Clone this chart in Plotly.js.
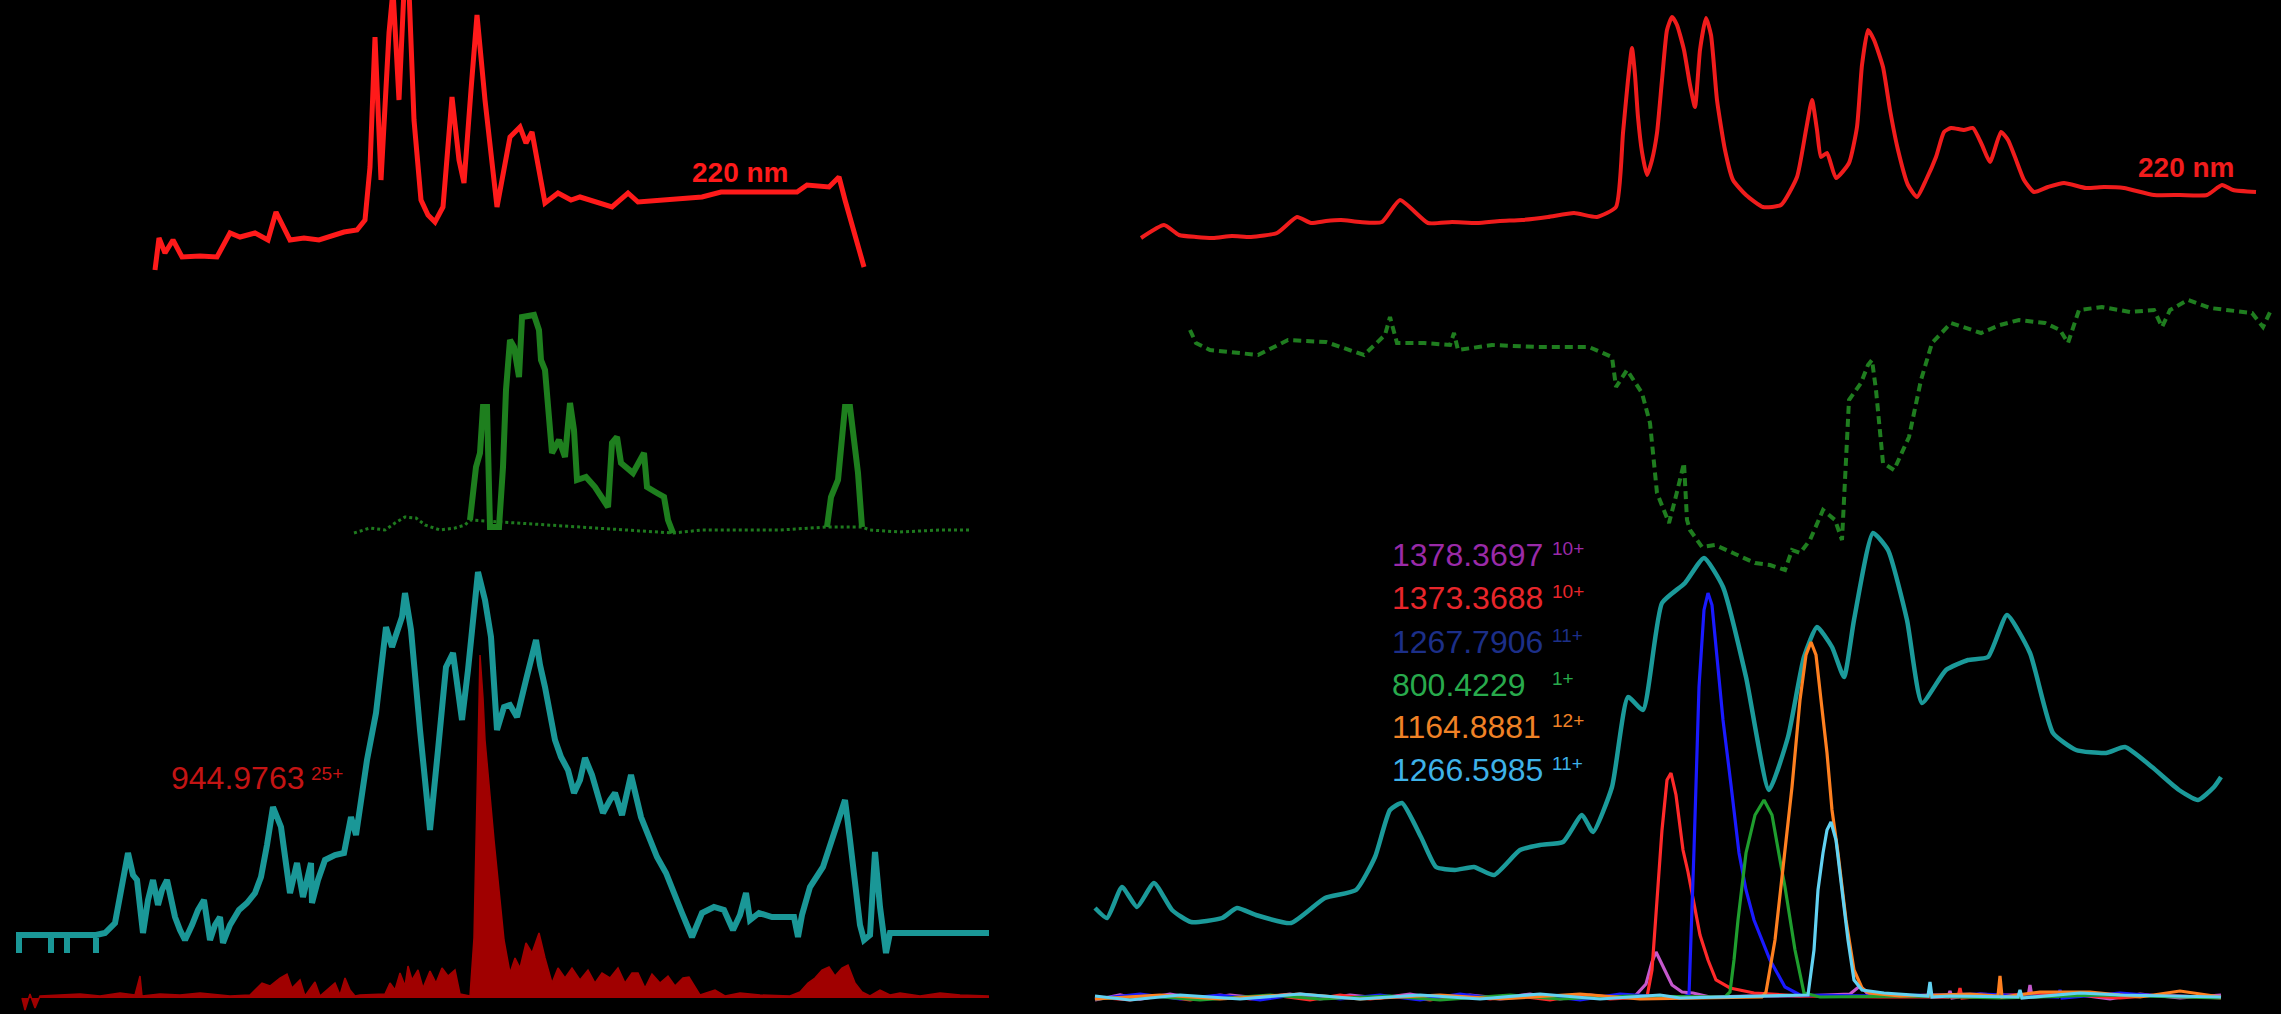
<!DOCTYPE html>
<html>
<head>
<meta charset="utf-8">
<script src="https://cdn.plot.ly/plotly-3.0.1.min.js"></script>
<style>
  html, body { margin: 0; padding: 0; background: #000; overflow: hidden; }
  #chart { width: 2281px; height: 1014px; }
</style>
</head>
<body>
<div id="chart"></div>
<script>
// ---- Run A (left): [retention time (min), signal] ----
const leftUv220 = [[7.75,10],[7.95,42],[8.25,27],[8.65,40],[9.1,23],[10.0,24],[10.85,23],[11.5,47],[12.0,43],[12.75,47],[13.4,40],[13.8,68],[14.5,40],[15.2,42],[15.95,40],[16.6,44],[17.2,48],[17.85,50],[18.25,60],[18.5,113],[18.75,243],[19.05,100],[19.45,247],[19.65,290],[19.95,180],[20.2,290],[20.45,290],[20.7,160],[21.05,80],[21.4,65],[21.75,58],[22.15,73],[22.6,183],[22.95,120],[23.2,97],[23.55,190],[23.85,265],[24.25,180],[24.85,73],[25.5,143],[26.0,153],[26.3,137],[26.6,148],[27.25,77],[27.9,87],[28.55,80],[29.0,83],[30.6,73],[31.4,87],[31.9,78],[33.5,80],[35.1,83],[36.05,88],[38.0,88],[39.85,88],[40.35,95],[41.45,93],[41.95,103],[42.25,80],[43.2,13]];

const leftTicQuiet = [[17.7,7],[18.5,12],[19.25,10],[19.75,17],[20.25,23],[20.8,22],[21.25,15],[22.0,10],[22.75,12],[23.25,15],[23.5,20],[33.65,7],[35.1,10],[37.0,10],[39.0,10],[41.35,13],[43.1,13],[43.5,10],[45.0,8],[47.0,10],[48.5,10]];
const leftTicPeaks = [[23.5,20],[23.8,73],[24.0,87],[24.15,133],[24.35,133],[24.5,13],[24.95,13],[25.15,73],[25.3,150],[25.5,200],[25.7,193],[25.95,163],[26.1,223],[26.5,225],[26.7,225],[26.95,210],[27.05,180],[27.25,170],[27.4,127],[27.6,87],[27.95,100],[28.25,83],[28.5,137],[28.7,110],[28.85,60],[29.3,63],[29.75,53],[30.4,33],[30.6,97],[30.85,103],[31.05,77],[31.65,67],[32.2,87],[32.35,53],[32.85,47],[33.2,43],[33.4,20],[33.65,7],[null,null],[41.35,13],[41.55,43],[41.9,60],[42.25,133],[42.5,133],[42.65,107],[42.9,67],[43.1,13]];

const leftBpc = [[0.95,7],[0.95,25],[2.55,25],[2.55,7],[2.55,25],[3.35,25],[3.35,7],[3.35,25],[4.8,25],[4.8,7],[4.8,25],[5.25,27],[5.75,37],[6.4,107],[6.65,85],[6.85,80],[7.15,27],[7.4,60],[7.65,80],[7.9,55],[8.1,70],[8.35,80],[8.75,43],[9.0,30],[9.25,20],[9.6,35],[9.9,50],[10.2,60],[10.5,20],[10.75,35],[11.0,43],[11.15,17],[11.5,35],[11.95,50],[12.35,57],[12.75,67],[13.05,83],[13.35,115],[13.65,153],[14.05,133],[14.3,90],[14.5,67],[14.85,97],[15.15,63],[15.55,97],[15.6,57],[15.9,80],[16.25,100],[16.75,105],[17.2,107],[17.55,143],[17.8,125],[18.35,200],[18.8,247],[19.05,290],[19.3,333],[19.6,313],[19.85,330],[20.1,343],[20.25,367],[20.55,330],[21.0,230],[21.5,130],[21.9,210],[22.3,293],[22.65,307],[22.9,270],[23.1,240],[23.4,290],[23.6,333],[23.9,388],[24.25,360],[24.55,323],[24.85,230],[25.2,253],[25.5,255],[25.85,243],[26.3,280],[26.8,320],[27.0,295],[27.25,273],[27.75,220],[28.05,203],[28.4,190],[28.7,167],[29.0,180],[29.25,202],[29.6,185],[30.15,147],[30.5,160],[30.75,167],[31.1,145],[31.55,185],[32.05,143],[32.5,120],[32.85,103],[33.3,87],[33.7,65],[34.1,47],[34.6,23],[35.1,47],[35.7,53],[36.2,50],[36.65,30],[37.0,45],[37.3,67],[37.5,40],[37.95,47],[38.6,43],[39.7,43],[39.9,23],[40.1,45],[40.5,73],[41.15,93],[41.75,130],[42.25,160],[42.5,120],[42.75,73],[43.0,35],[43.2,20],[43.5,25],[43.75,108],[44.0,53],[44.3,7],[44.5,27],[49.45,27]];

const leftEic944 = [[1.1,0],[1.25,-12],[1.5,4],[1.75,-10],[2.0,2],[3.0,3],[4.0,4],[5.0,2],[6.0,5],[6.75,3],[7.0,22],[7.1,2],[8.0,4],[9.0,3],[10.0,5],[11.5,2],[12.5,3],[12.75,8],[13.1,15],[13.5,12],[14.0,20],[14.35,24],[14.6,10],[15.0,18],[15.25,2],[15.75,16],[16.0,2],[16.75,15],[17.0,3],[17.25,20],[17.5,8],[17.75,2],[18.0,3],[19.25,4],[19.5,15],[19.75,8],[20.0,25],[20.25,12],[20.4,32],[20.6,18],[20.9,28],[21.15,10],[21.5,27],[21.8,15],[22.1,30],[22.4,22],[22.75,28],[23.0,4],[23.5,2],[23.7,60],[23.85,220],[24.0,343],[24.15,300],[24.25,258],[24.7,158],[25.2,58],[25.5,25],[25.75,40],[26.0,30],[26.3,55],[26.6,45],[26.95,65],[27.25,40],[27.6,15],[27.9,30],[28.25,20],[28.6,30],[29.0,18],[29.4,28],[29.75,15],[30.1,25],[30.5,20],[30.9,30],[31.25,15],[31.6,25],[31.9,25],[32.25,10],[32.6,24],[33.0,15],[33.4,22],[33.75,12],[34.15,20],[34.45,21],[35.0,3],[35.75,8],[36.25,2],[37.0,5],[38.0,3],[39.5,2],[40.0,6],[40.4,15],[40.75,20],[41.1,28],[41.45,31],[41.75,22],[42.1,30],[42.4,33],[42.75,15],[43.1,6],[43.5,2],[44.0,8],[44.5,3],[45.0,5],[46.0,2],[47.0,5],[48.0,3],[49.45,2]];

// ---- Run B (right): [retention time (min), signal] ----
const rightUv220 = [[3.05,42],[4.2,55],[4.95,45],[5.8,43],[6.65,42],[7.6,44],[8.55,43],[9.85,47],[10.85,63],[11.55,57],[12.3,59],[13.05,60],[14.0,58],[15.1,58],[16.0,80],[17.4,57],[18.6,58],[19.85,57],[21.0,59],[22.1,60],[23.4,63],[24.7,67],[25.85,63],[26.8,73],[27.15,147],[27.4,200],[27.6,232],[27.75,205],[27.9,163],[28.1,128],[28.35,105],[28.6,120],[28.85,147],[29.1,200],[29.35,250],[29.6,263],[29.85,255],[30.2,230],[30.5,195],[30.75,173],[31.0,230],[31.3,262],[31.55,245],[31.85,180],[32.25,130],[32.65,100],[33.3,85],[34.15,73],[35.05,75],[35.85,103],[36.3,150],[36.6,180],[36.85,150],[37.05,123],[37.35,127],[37.8,102],[38.45,117],[38.85,153],[39.1,215],[39.4,250],[39.7,240],[40.15,213],[40.5,170],[40.9,130],[41.4,95],[41.85,83],[42.3,100],[42.8,123],[43.2,148],[43.55,152],[44.2,150],[44.65,152],[45.1,135],[45.5,118],[46.05,148],[46.4,140],[46.75,123],[47.2,100],[47.7,88],[48.4,93],[49.2,97],[50.3,92],[51.2,93],[52.2,92],[53.7,85],[55.0,85],[56.35,85],[57.1,95],[57.65,90],[58.8,88]];

const rightTic = [[5.5,250],[5.8,237],[6.5,230],[7.4,228],[8.9,225],[10.4,240],[12.3,238],[14.2,225],[15.25,245],[15.5,263],[15.85,237],[17.2,237],[18.5,235],[18.7,247],[18.9,230],[20.6,235],[22.85,233],[25.45,233],[26.6,223],[26.8,193],[27.35,210],[28.1,187],[28.5,157],[28.85,87],[29.45,57],[29.75,80],[30.2,117],[30.35,60],[30.5,50],[31.1,33],[31.75,35],[32.65,27],[33.75,17],[34.5,15],[35.25,10],[35.6,30],[36.0,27],[36.5,40],[37.15,70],[37.75,60],[38.1,40],[38.45,180],[39.05,197],[39.4,215],[39.6,220],[39.8,190],[40.15,117],[40.7,110],[41.45,143],[42.05,200],[42.6,237],[43.55,257],[45.05,247],[46.0,255],[46.95,260],[48.25,257],[49.0,250],[49.4,237],[49.7,255],[49.95,270],[51.1,273],[52.5,268],[53.7,270],[54.1,253],[54.5,270],[55.4,280],[56.5,272],[57.45,270],[58.6,267],[59.15,253],[59.55,270]];

const rightBpc = [[0.75,32],[1.35,22],[2.1,53],[2.85,33],[3.7,57],[4.6,30],[5.55,18],[7.1,22],[7.85,32],[8.8,25],[10.55,17],[12.25,42],[13.8,50],[14.75,83],[15.5,130],[16.1,137],[17.05,103],[17.8,73],[18.75,70],[19.7,73],[20.7,65],[22.0,90],[23.0,95],[24.15,98],[25.1,125],[25.65,108],[26.6,153],[27.4,243],[28.15,230],[29.1,337],[30.25,357],[31.2,382],[32.15,353],[33.3,263],[34.45,150],[35.4,203],[36.2,283],[36.85,313],[37.6,293],[38.2,263],[38.7,320],[39.65,407],[40.4,390],[41.35,320],[42.1,237],[43.3,270],[44.4,280],[45.4,283],[46.35,325],[47.5,287],[48.65,207],[49.8,190],[51.3,187],[52.25,193],[53.6,173],[54.95,150],[55.9,140],[56.7,153],[57.05,163]];

// extracted ion chromatograms, run B
const eic1378 = [[0.75,0],[2,5],[3,1],[4.5,6],[6,1],[7.5,5],[9,2],[10.5,6],[12,1],[13.5,5],[15,2],[16.5,6],[18,1],[19.5,5],[21,2],[22.5,6],[24,1],[25.5,5],[27.0,2],[27.75,4],[28.3,16],[28.6,38],[28.8,48],[29.1,35],[29.6,15],[30.1,8],[30.65,7],[31.5,3],[33.5,4],[36.0,4],[38.5,6],[38.75,10],[39.0,14],[39.4,6],[41,4],[43.4,3],[43.5,9],[43.6,2],[45,6],[47.4,3],[47.5,15],[47.6,3],[50,5],[51.5,1],[53,6],[55,2],[57.05,5]];
const eic1373 = [[0.75,3],[2.5,0],[4,4],[5.5,0],[7,5],[8.5,1],[10,4],[11.5,0],[13,5],[14.5,1],[16,4],[17.5,0],[19,5],[20.5,1],[22,4],[23.5,0],[25,5],[26.5,1],[28.35,3],[28.6,30],[28.85,100],[29.1,170],[29.35,220],[29.55,227],[29.8,205],[30.15,150],[30.4,128],[30.65,100],[31.0,65],[31.4,40],[31.8,20],[32.5,12],[33.7,7],[36.0,4],[40,3],[43.9,3],[44.0,12],[44.1,2],[46,5],[49,6],[52,2],[54,5],[57.05,2]];
const eic1267b = [[0.75,1],[3,6],[5,1],[7,5],[9,0],[11,6],[13,1],[15,5],[17,0],[19,6],[21,1],[23,5],[25,0],[27,6],[30.0,2],[30.45,5],[30.7,150],[30.95,313],[31.2,390],[31.4,407],[31.6,395],[31.9,330],[32.15,280],[32.55,215],[32.95,147],[33.3,110],[33.7,80],[34.5,40],[35.25,13],[36.0,5],[40,4],[45,6],[48.9,3],[49.0,10],[49.1,2],[52,7],[54,4],[57.05,3]];
const eic800 = [[0.75,1],[3.5,4],[6,0],[9.5,5],[12,1],[15.5,4],[18,0],[21.5,5],[24,1],[27.5,4],[32.25,3],[32.5,8],[32.7,40],[32.9,80],[33.3,147],[33.75,185],[34.2,200],[34.6,185],[35.0,140],[35.25,113],[35.75,50],[36.2,7],[37.0,3],[42,4],[46,2],[51,5],[57.05,2]];
const eic1164 = [[0.75,1],[4,5],[7,1],[11,6],[14,1],[18,5],[21,1],[25,6],[28,1],[34.1,3],[34.3,8],[34.75,60],[35.25,150],[35.6,213],[36.0,300],[36.3,345],[36.55,358],[36.8,345],[37.05,300],[37.35,247],[37.6,190],[37.9,147],[38.3,80],[38.7,30],[39.1,12],[39.45,7],[41.0,4],[44.5,6],[45.9,4],[46.0,24],[46.1,3],[48,8],[50.5,8],[53,3],[55,9],[57.05,3]];
const eic1266 = [[0.75,4],[2.5,0],[5,5],[8,1],[11,6],[14,1],[17,5],[20,1],[23,6],[26,1],[29,5],[30,2],[36.4,5],[36.7,50],[36.9,110],[37.15,147],[37.35,170],[37.55,178],[37.8,160],[38.1,113],[38.4,60],[38.7,20],[39.1,10],[40.2,7],[42.4,4],[42.5,18],[42.6,3],[43.5,4],[46.9,3],[47,10],[47.1,2],[50,7],[52,5],[57.05,3]];

// ion labels
const ionMz = ['1378.3697', '1373.3688', '1267.7906', '800.4229', '1164.8881', '1266.5985'];
const ionCharge = ['10+', '10+', '11+', '1+', '12+', '11+'];
const ionLabelColor = ['#9a2aa8', '#e8262b', '#1c2f88', '#28aa4c', '#f08226', '#3eb2e8'];
const ionTraceColor = ['#c458cc', '#ff2a2a', '#1a1aff', '#1f9e2e', '#ff8020', '#62d2f2'];
const ionSeries = [eic1378, eic1373, eic1267b, eic800, eic1164, eic1266];

const leftIonMz = '944.9763';
const leftIonCharge = '25+';
const uvLabel = '220 nm';

const xs = a => a.map(p => p[0]);
const ys = a => a.map(p => p[1]);

function line(data, xa, ya, color, width, extra) {
  return Object.assign({
    type: 'scatter', mode: 'lines', x: xs(data), y: ys(data),
    xaxis: xa, yaxis: ya, hoverinfo: 'skip', connectgaps: false,
    line: { color: color, width: width }
  }, extra || {});
}

const traces = [
  line(leftUv220, 'x', 'y', '#ff1a1a', 5),
  line(leftTicQuiet, 'x', 'y2', '#1e7a1e', 3, { line: { color: '#1e7a1e', width: 3, dash: 'dot' } }),
  line(leftTicPeaks, 'x', 'y2', '#1e7f1e', 6),
  line(leftBpc, 'x', 'y3', '#1a9797', 6),
  line(leftEic944, 'x', 'y4', '#a00000', 1.5, { fill: 'tozeroy', fillcolor: '#a00000' }),
  line(rightUv220, 'x2', 'y5', '#f01c1c', 4, { line: { color: '#f01c1c', width: 4, shape: 'spline', smoothing: 0.5 } }),
  line(rightTic, 'x2', 'y6', '#1f7d1f', 4, { line: { color: '#1f7d1f', width: 4, dash: '8px,5px' } }),
  line(rightBpc, 'x2', 'y7', '#1b9a9a', 4.5, { line: { color: '#1b9a9a', width: 4.5, shape: 'spline', smoothing: 0.5 } })
];
ionSeries.forEach((s, i) => {
  traces.push(line(s, 'x2', 'y8', ionTraceColor[i], 3.2));
});

const W = 2281, H = 1014;
const px = v => v / W;
const py = v => 1 - v / H;
const FONT = 'Liberation Sans, Arial, sans-serif';

const annotations = [
  { text: '<b>' + uvLabel + '</b>', x: px(740), y: py(173), xanchor: 'center', yanchor: 'middle',
    font: { family: FONT, size: 28, color: '#ff1a1a' } },
  { text: '<b>' + uvLabel + '</b>', x: px(2186), y: py(168), xanchor: 'center', yanchor: 'middle',
    font: { family: FONT, size: 28, color: '#f01c1c' } },
  { text: leftIonMz, x: px(170), y: py(778), xanchor: 'left', yanchor: 'middle',
    font: { family: FONT, size: 32, color: '#c41414' } },
  { text: leftIonCharge, x: px(310), y: py(773), xanchor: 'left', yanchor: 'middle',
    font: { family: FONT, size: 19, color: '#c41414' } }
];
const rowY = [555, 598, 642, 685, 727, 770];
ionMz.forEach((mz, i) => {
  annotations.push({ text: mz, x: px(1391), y: py(rowY[i]), xanchor: 'left', yanchor: 'middle',
    font: { family: FONT, size: 32, color: ionLabelColor[i] } });
  annotations.push({ text: ionCharge[i], x: px(1551), y: py(rowY[i] - 7), xanchor: 'left', yanchor: 'middle',
    font: { family: FONT, size: 19, color: ionLabelColor[i] } });
});
annotations.forEach(a => { a.xref = 'paper'; a.yref = 'paper'; a.showarrow = false; a.borderpad = 0; });

const hidden = { visible: false, fixedrange: true };
const layout = {
  width: W, height: H,
  margin: { l: 0, r: 0, t: 0, b: 0, pad: 0 },
  paper_bgcolor: '#000', plot_bgcolor: 'rgba(0,0,0,0)',
  showlegend: false,
  xaxis:  Object.assign({ domain: [0, 1000 / W], range: [0, 50], anchor: 'y' }, hidden),
  xaxis2: Object.assign({ domain: [1080 / W, 1], range: [0, 60.05], anchor: 'y5' }, hidden),
  yaxis:  Object.assign({ domain: [py(280), 1], range: [0, 280], anchor: 'x' }, hidden),
  yaxis2: Object.assign({ domain: [py(540), py(300)], range: [0, 240], anchor: 'x' }, hidden),
  yaxis3: Object.assign({ domain: [py(960), py(560)], range: [0, 400], anchor: 'x' }, hidden),
  yaxis4: Object.assign({ domain: [0, py(640)], range: [-16, 358], anchor: 'x' }, hidden),
  yaxis5: Object.assign({ domain: [py(280), 1], range: [0, 280], anchor: 'x2' }, hidden),
  yaxis6: Object.assign({ domain: [py(580), py(290)], range: [0, 290], anchor: 'x2' }, hidden),
  yaxis7: Object.assign({ domain: [py(940), py(520)], range: [0, 420], anchor: 'x2' }, hidden),
  yaxis8: Object.assign({ domain: [0, py(560)], range: [-14, 440], anchor: 'x2' }, hidden),
  annotations: annotations
};

Plotly.newPlot('chart', traces, layout, { staticPlot: true, displayModeBar: false });
</script>
</body>
</html>
